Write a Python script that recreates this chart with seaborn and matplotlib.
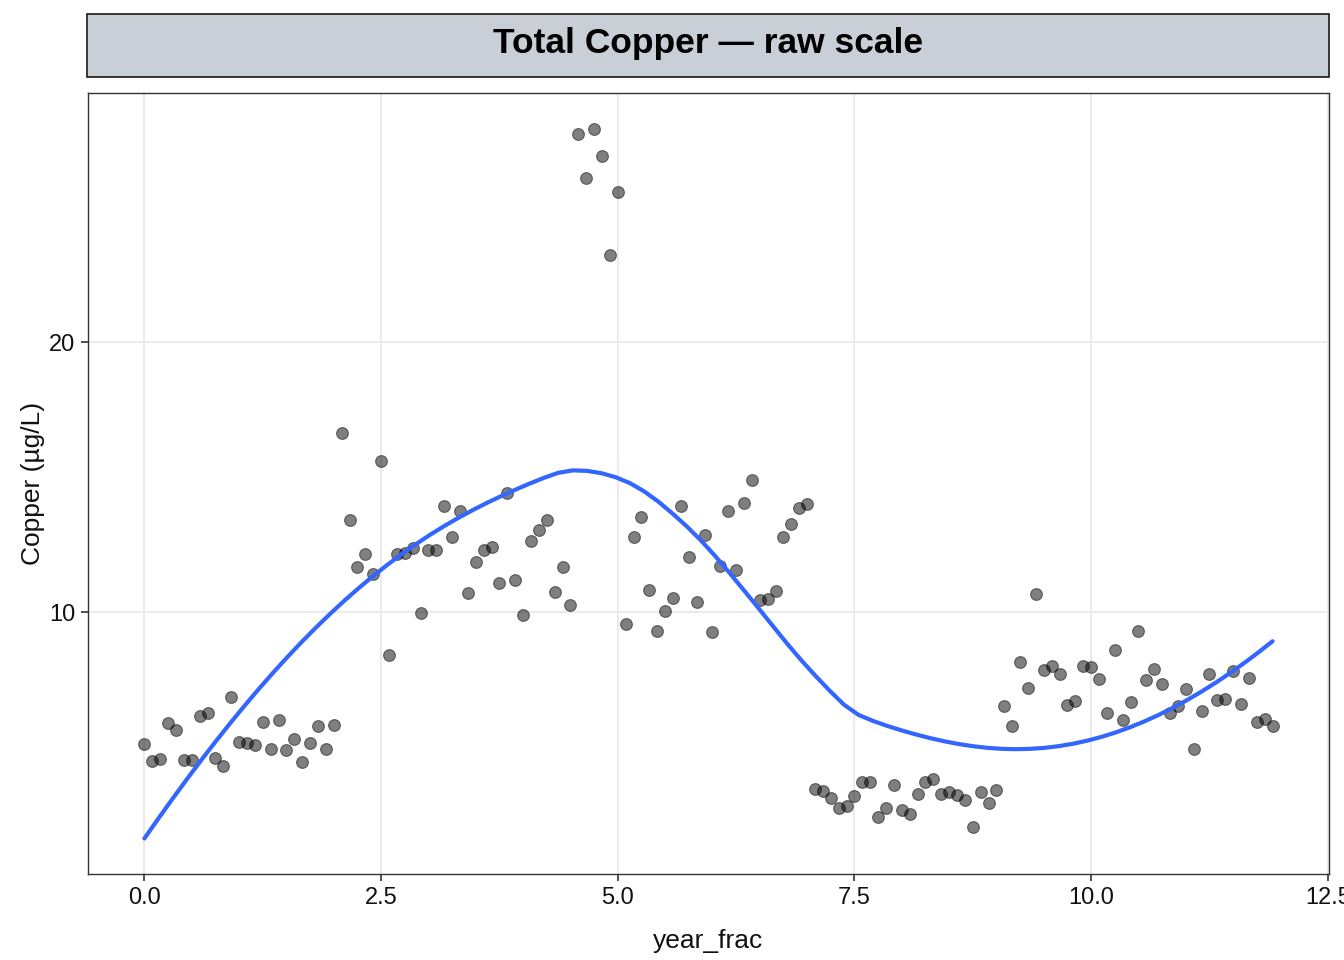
import numpy as np
import pandas as pd
import matplotlib
matplotlib.use("Agg")
import matplotlib.pyplot as plt
import seaborn as sns
from matplotlib.patches import Rectangle


# -----------------------------
# Data (monthly samples)
# -----------------------------
n_months = 144
year_frac = np.arange(n_months) / 12.0

copper = [
    # year 0
    5.09, 4.46, 4.54, 5.90, 5.61, 4.50, 4.50, 6.16, 6.27, 4.58, 4.28, 6.86,
    # year 1
    5.17, 5.13, 5.06, 5.94, 4.91, 5.98, 4.87, 5.31, 4.43, 5.13, 5.79, 4.91,
    # year 2
    5.83, 16.64, 13.43, 11.66, 12.14, 11.40, 15.61, 8.41, 12.14, 12.18, 12.36, 9.96,
    # year 3
    12.32, 12.29, 13.95, 12.80, 13.73, 10.70, 11.85, 12.29, 12.40, 11.07, 14.43, 11.18,
    # year 4
    9.89, 12.62, 13.03, 13.43, 10.74, 11.66, 10.26, 27.71, 26.09, 27.93, 26.90, 23.25,
    # year 5
    25.57, 9.56, 12.77, 13.51, 10.81, 9.30, 10.04, 10.52, 13.95, 12.03, 10.37, 12.84,
    # year 6
    9.26, 11.70, 13.73, 11.55, 14.06, 14.91, 10.44, 10.48, 10.77, 12.80, 13.28, 13.87,
    # year 7
    14.02, 3.43, 3.36, 3.10, 2.73, 2.80, 3.17, 3.69, 3.69, 2.40, 2.73, 3.58,
    # year 8
    2.66, 2.51, 3.25, 3.69, 3.80, 3.25, 3.32, 3.21, 3.03, 2.03, 3.32, 2.92,
    # year 9
    3.39, 6.53, 5.79, 8.15, 7.20, 10.66, 7.86, 8.01, 7.71, 6.57, 6.72, 8.01,
    # year 10
    7.97, 7.53, 6.24, 8.60, 5.98, 6.68, 9.30, 7.49, 7.90, 7.34, 6.24, 6.53,
    # year 11
    7.16, 4.94, 6.35, 7.71, 6.75, 6.79, 7.82, 6.61, 7.56, 5.94, 6.05, 5.76,
]

x_ticks = [0.0, 2.5, 5.0, 7.5, 10.0, 12.5]
y_ticks = [10, 20]

df = pd.DataFrame({"year_frac": year_frac, "copper": copper})


# -----------------------------
# Loess smoother (degree 2, span 0.75, like geom_smooth)
# -----------------------------
def loess(x, y, x_new, span=0.75):
    x = np.asarray(x, float)
    y = np.asarray(y, float)
    n = len(x)
    q = int(np.floor(n * span))
    out = []
    for x0 in x_new:
        d = np.abs(x - x0)
        h = np.sort(d)[q - 1]
        w = np.clip(1 - (d / h) ** 3, 0, None) ** 3
        X = np.column_stack([np.ones(n), x - x0, (x - x0) ** 2])
        W = np.sqrt(w)
        beta = np.linalg.lstsq(X * W[:, None], y * W, rcond=None)[0]
        out.append(beta[0])
    return np.array(out)


x_grid = np.linspace(df.year_frac.min(), df.year_frac.max(), 80)
smooth = pd.DataFrame({"year_frac": x_grid,
                       "copper": loess(df.year_frac, df.copper, x_grid)})


# -----------------------------
# Plot
# -----------------------------
sns.set_style("white")
plt.rcParams["font.family"] = ["Liberation Sans", "DejaVu Sans"]

fig = plt.figure(figsize=(13.44, 9.6), dpi=100)
ax = fig.add_axes([88 / 1344, 1 - 874 / 960, 1241 / 1344, 781 / 960])

sns.scatterplot(data=df, x="year_frac", y="copper", ax=ax,
                color="black", alpha=0.5, s=72, edgecolor="black",
                linewidth=0.8, zorder=3)
sns.lineplot(data=smooth, x="year_frac", y="copper", ax=ax,
             color="#3366FF", linewidth=3.0, zorder=4)

# ggplot-like 5% expansion
xmin, xmax = df.year_frac.min(), df.year_frac.max()
ymin = min(df.copper.min(), smooth.copper.min())
ymax = max(df.copper.max(), smooth.copper.max())
ax.set_xlim(xmin - 0.05 * (xmax - xmin), xmax + 0.05 * (xmax - xmin))
ax.set_ylim(ymin - 0.05 * (ymax - ymin), ymax + 0.05 * (ymax - ymin))

ax.set_xticks(x_ticks)
ax.set_xticklabels([f"{t:.1f}" for t in x_ticks])
ax.set_yticks(y_ticks)
ax.grid(True, color="#EBEBEB", linewidth=1.5, zorder=0)
ax.set_axisbelow(True)
for sp in ax.spines.values():
    sp.set_color("#333333")
    sp.set_linewidth(1.0)
ax.tick_params(axis="both", length=5, width=1.2, color="#333333",
               labelsize=17, labelcolor="#111111", direction="out",
               bottom=True, left=True, pad=4)

ax.set_xlabel("year_frac", fontsize=19, labelpad=15, color="#111111")
ax.set_ylabel("Copper (µg/L)", fontsize=19, labelpad=3, color="#111111")

# facet-style strip title
strip = Rectangle((87 / 1344, 1 - 77 / 960), 1242 / 1344, 63 / 960,
                  transform=fig.transFigure, facecolor="#C8CFD7",
                  edgecolor="#1a1a1a", linewidth=1.2)
fig.patches.append(strip)
fig.text((87 + 1329) / 2 / 1344, 1 - 44 / 960, "Total Copper — raw scale",
         ha="center", va="center", fontsize=25.5, fontweight="bold",
         color="black")

plt.savefig("out.png", dpi=100)
